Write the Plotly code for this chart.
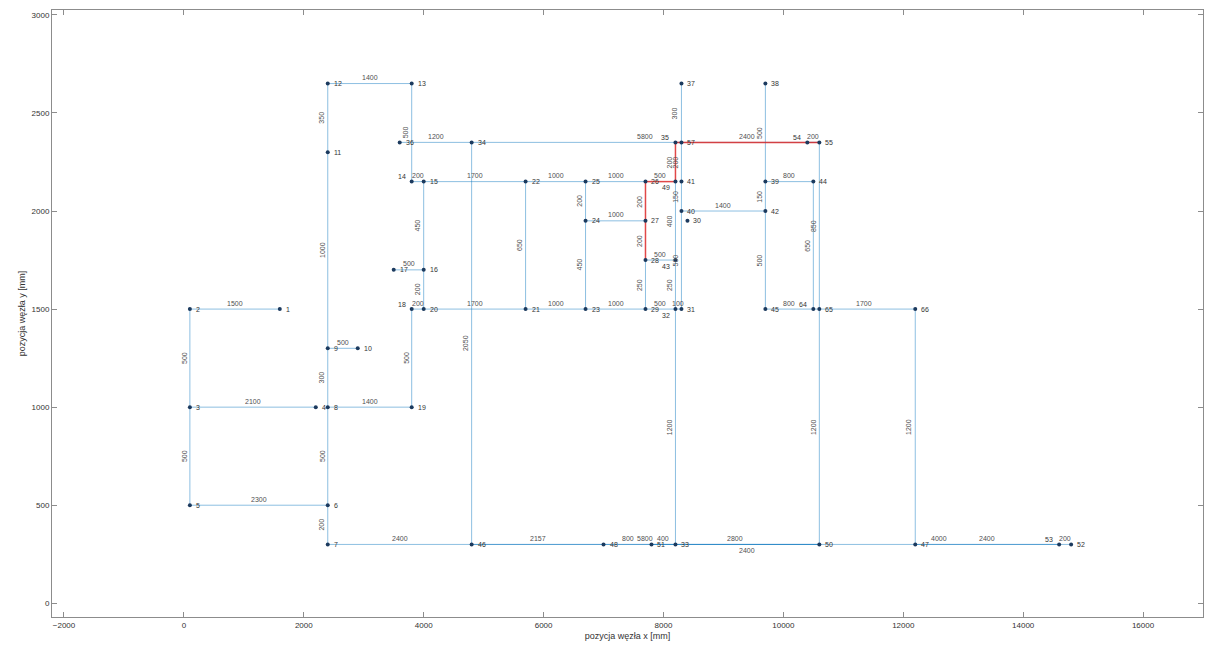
import plotly.graph_objects as go

# ---- data: nodes ----
node_ids = [1, 2, 3, 4, 5, 6, 7, 8, 9, 10,
            11, 12, 13, 14, 15, 16, 17, 18, 19, 20,
            21, 22, 23, 24, 25, 26, 27, 28, 29, 30,
            31, 32, 33, 34, 35, 36, 37, 38, 39, 40,
            41, 42, 43, 44, 45, 46, 47, 48, 49, 50,
            51, 52, 53, 54, 55, 57, 64, 65, 66]
node_x = [1600, 100, 100, 2200, 100, 2400, 2400, 2400, 2400, 2900,
          2400, 2400, 3800, 3800, 4000, 4000, 3500, 3800, 3800, 4000,
          5700, 5700, 6700, 6700, 6700, 7700, 7700, 7700, 7700, 8400,
          8300, 8200, 8200, 4800, 8200, 3600, 8300, 9700, 9700, 8300,
          8300, 9700, 8200, 10500, 9700, 4800, 12200, 7000, 8200, 10600,
          7800, 14800, 14600, 10400, 10600, 8300, 10500, 10600, 12200]
node_y = [1500, 1500, 1000, 1000, 500, 500, 300, 1000, 1300, 1300,
          2300, 2650, 2650, 2150, 2150, 1700, 1700, 1500, 1000, 1500,
          1500, 2150, 1500, 1950, 2150, 2150, 1950, 1750, 1500, 1950,
          1500, 1500, 300, 2350, 2350, 2350, 2650, 2650, 2150, 2000,
          2150, 2000, 1750, 2150, 1500, 300, 300, 300, 2150, 300,
          300, 300, 300, 2350, 2350, 2350, 1500, 1500, 1500]

# ---- data: edges ----
edge_src = [2, 2, 3, 3, 5, 6, 6, 8, 9, 9,
            11, 12, 13, 14, 15, 17, 16, 18, 18, 8,
            36, 34, 15, 20, 22, 22, 21, 25, 24, 25,
            24, 23, 28, 27, 26, 26, 49, 35, 29, 32,
            32, 43, 49, 28, 37, 57, 41, 40, 38, 39,
            42, 40, 39, 45, 64, 66, 44, 55, 65, 34,
            7, 46, 48, 51, 46, 51, 33, 50, 47, 53,
            54]
edge_dst = [1, 3, 4, 5, 6, 7, 8, 9, 10, 11,
            12, 13, 14, 15, 16, 16, 20, 20, 19, 19,
            34, 55, 22, 21, 21, 25, 23, 24, 23, 26,
            27, 29, 29, 28, 27, 49, 35, 55, 32, 31,
            33, 32, 43, 43, 57, 41, 40, 31, 39, 42,
            45, 42, 44, 64, 66, 47, 64, 65, 50, 46,
            46, 48, 51, 33, 50, 50, 50, 53, 53, 52,
            55]
edge_lbl = ["1500", "500", "2100", "500", "2300", "200", "500", "300", "500", "1000",
            "350", "1400", "500", "200", "450", "500", "200", "200", "500", "1400",
            "1200", "5800", "1700", "1700", "650", "1000", "1000", "200", "450", "1000",
            "1000", "1000", "250", "200", "200", "500", "200", "2400", "500", "100",
            "1200", "250", "400", "500", "300", "200", "150", "500", "500", "150",
            "500", "1400", "800", "800", "1700", "1200", "650", "850", "1200", "2050",
            "2400", "2157", "800", "400", "5800", "2800", "2400", "4000", "2400", "200",
            "200"]
red_path = [(28, 27), (27, 26), (26, 49), (49, 35), (35, 55)]

# nodes whose name is written above-left / below-left of the marker (crowded spots)
left_named = [54, 64, 35, 53, 18, 14]
below_left_named = [49, 43, 32]
# edge whose length label sits under the line (overlap avoidance)
label_below = [(33, 50)]

pos = {n: (x, y) for n, x, y in zip(node_ids, node_x, node_y)}
red_set = {frozenset(p) for p in red_path}
below_set = {frozenset(p) for p in label_below}

bx, by, rx, ry = [], [], [], []
annotations = []
for s, d, lab in zip(edge_src, edge_dst, edge_lbl):
    (x0, y0), (x1, y1) = pos[s], pos[d]
    if frozenset((s, d)) in red_set:
        rx += [x0, x1, None]; ry += [y0, y1, None]
    else:
        bx += [x0, x1, None]; by += [y0, y1, None]
    mx, my = (x0 + x1) / 2, (y0 + y1) / 2
    vertical = abs(x1 - x0) < abs(y1 - y0)
    ys = 0 if vertical else (-6 if frozenset((s, d)) in below_set else 6)
    annotations.append(dict(
        x=mx, y=my, text=lab, showarrow=False,
        textangle=-90 if vertical else 0,
        xshift=-6 if vertical else 0, yshift=ys,
        font=dict(size=7, color="#505050", family="Liberation Sans")))

fig = go.Figure()
fig.add_trace(go.Scatter(x=bx, y=by, mode="lines",
                         line=dict(color="rgba(0,114,189,0.45)", width=1),
                         hoverinfo="skip", showlegend=False))
fig.add_trace(go.Scatter(x=rx, y=ry, mode="lines",
                         line=dict(color="rgba(220,40,40,0.85)", width=1.5),
                         hoverinfo="skip", showlegend=False))
fig.add_trace(go.Scatter(x=node_x, y=node_y, mode="markers",
                         marker=dict(size=4, color="#1c3a5e"),
                         hoverinfo="skip", showlegend=False))
for n, x, y in zip(node_ids, node_x, node_y):
    if n in left_named:
        xa, xs, ys = "right", -4, 5
    elif n in below_left_named:
        xa, xs, ys = "right", -3, -6
    else:
        xa, xs, ys = "left", 4, 0
    annotations.append(dict(
        x=x, y=y, text=str(n), showarrow=False,
        xanchor=xa, xshift=xs, yshift=ys,
        font=dict(size=7, color="#333333", family="Liberation Sans")))

axis_common = dict(showline=True, linecolor="#8c8c8c", linewidth=1, mirror="ticks",
                   ticks="inside", ticklen=5, tickcolor="#8c8c8c", showgrid=False,
                   zeroline=False, tickformat="d",
                   tickfont=dict(size=8, color="#333333", family="Liberation Sans"))
fig.update_layout(
    width=1207, height=653,
    margin=dict(l=52, r=4, t=10, b=36),
    paper_bgcolor="white", plot_bgcolor="white",
    annotations=annotations,
    xaxis=dict(range=[-2200, 17000], dtick=2000, tick0=0,
               title=dict(text="pozycja węzła x [mm]", standoff=4,
                          font=dict(size=9, color="#333333", family="Liberation Sans")),
               **axis_common),
    yaxis=dict(range=[-70, 3025], dtick=500, tick0=0,
               title=dict(text="pozycja węzła y [mm]", standoff=4,
                          font=dict(size=9, color="#333333", family="Liberation Sans")),
               **axis_common),
)
fig.write_html("out.html")
